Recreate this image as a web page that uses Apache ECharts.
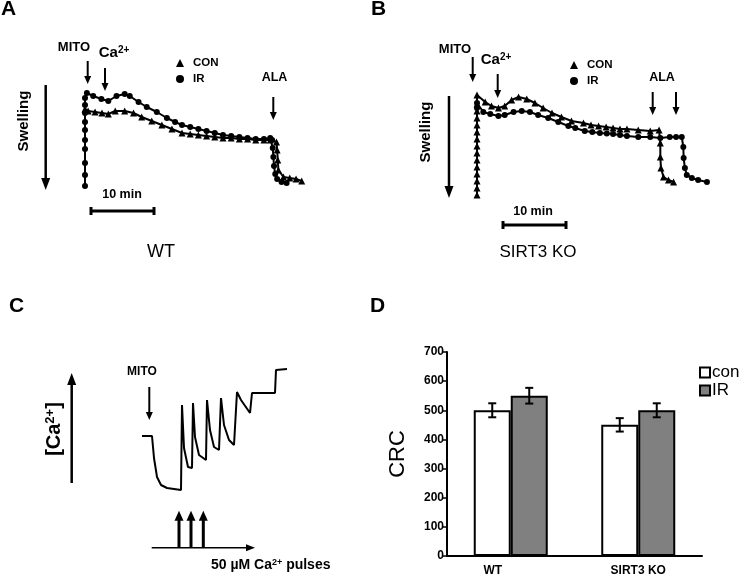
<!DOCTYPE html>
<html>
<head>
<meta charset="utf-8">
<title>Mitochondrial swelling and CRC</title>
<script src="https://cdn.jsdelivr.net/npm/echarts@6/dist/echarts.min.js"></script>
<style>
  html, body { margin: 0; padding: 0; background: #fff; }
  #chart { width: 745px; height: 578px; }
</style>
</head>
<body>
<div id="chart"></div>
<script>
// ---- data ----
// A / B : swelling traces, [time (min), absorbance (a.u.)]
var swellA_CON = [[0,0.91],[0.5,0.89],[1.6,0.88],[2.7,0.87],[3.7,0.86],[4.8,0.89],[6.3,0.89],[7.7,0.87],[9.0,0.83],[10.6,0.79],[12.2,0.75],[13.8,0.71],[15.4,0.67],[16.7,0.66],[18.0,0.65],[19.3,0.64],[20.6,0.63],[21.9,0.62],[23.2,0.62],[24.5,0.61],[25.8,0.61],[27.1,0.60],[28.4,0.60],[29.4,0.60],[30.4,0.58],[30.5,0.50],[30.6,0.40],[30.7,0.30],[31.5,0.23],[32.5,0.22],[33.5,0.21],[34.4,0.19]];
var swellA_IR = [[0,0.14],[0,0.25],[0,0.37],[0,0.51],[0,0.60],[0,0.70],[0,0.78],[0,0.87],[0,0.95],[0,1.02],[0.3,1.07],[1.3,1.04],[2.6,1.01],[3.7,0.99],[5.0,1.04],[6.3,1.06],[7.1,1.04],[8.5,0.98],[9.8,0.93],[11.4,0.88],[13.0,0.82],[14.3,0.78],[15.4,0.75],[16.7,0.73],[18.0,0.71],[19.3,0.69],[20.6,0.67],[21.9,0.65],[23.2,0.64],[24.5,0.63],[25.8,0.62],[27.1,0.61],[28.4,0.61],[29.4,0.62],[29.7,0.60],[29.8,0.52],[29.9,0.43],[30.0,0.34],[30.2,0.26],[30.5,0.21],[31.2,0.18],[32.0,0.17]];
var swellB_CON = [[0,0.05],[0,0.12],[0,0.19],[0,0.26],[0,0.33],[0,0.40],[0,0.47],[0,0.54],[0,0.61],[0,0.68],[0,0.75],[0,0.82],[0,0.89],[0,0.96],[0,1.05],[1.3,0.98],[2.3,0.94],[3.4,0.92],[4.4,0.94],[5.5,1.00],[6.6,1.03],[7.9,1.01],[9.2,0.97],[10.5,0.92],[11.9,0.87],[13.4,0.83],[15.0,0.79],[16.9,0.77],[18.1,0.75],[19.3,0.74],[20.5,0.73],[21.6,0.72],[22.7,0.71],[23.8,0.71],[25.6,0.70],[27.5,0.69],[28.9,0.70],[29.1,0.57],[29.1,0.43],[29.2,0.32],[29.6,0.23],[30.4,0.20],[31.2,0.18]];
var swellB_IR = [[0,0.92],[0,0.97],[1.0,0.88],[2.1,0.86],[3.4,0.84],[4.4,0.85],[5.8,0.88],[7.1,0.89],[8.4,0.88],[9.7,0.85],[11.3,0.82],[12.9,0.78],[14.5,0.74],[15.6,0.72],[17.1,0.69],[18.3,0.68],[19.5,0.67],[20.6,0.665],[21.6,0.66],[22.7,0.65],[23.8,0.64],[25.6,0.63],[27.5,0.63],[29.1,0.62],[30.6,0.63],[31.6,0.63],[32.5,0.63],[32.75,0.53],[32.8,0.42],[33.0,0.32],[33.3,0.25],[34.1,0.22],[35.1,0.20],[36.5,0.18]];

// C : extra-mitochondrial Ca2+ trace (arbitrary units)
var caTime  = [12,22,24,27,31,37,51,52,54,58,62,63,65,69,76,77,80,84,89,91,94,99,104,107,111,120,122,145,146,157];
var caLevel = [64,64,42,23,15,12,10,95,52,33,32,97,63,45,40,100,70,53,50,102,75,60,55,108,100,87,107,107,130,131];

// D : calcium retention capacity
var crcGroups = ['WT', 'SIRT3 KO'];
var crcCon    = [500, 450];
var crcIR     = [550, 500];
var crcConErr = [24, 23];
var crcIRErr  = [27, 24];
var crcTicks  = [0, 100, 200, 300, 400, 500, 600, 700];

var FONT = '"Liberation Sans", Arial, Helvetica, sans-serif';

// ---- helpers for the drawn annotations ----
function arrow(x1, y1, x2, y2, lw, hw, hl) {
  var dx = x2 - x1, dy = y2 - y1, len = Math.sqrt(dx * dx + dy * dy);
  var ux = dx / len, uy = dy / len, px = -uy, py = ux;
  var bx = x2 - ux * hl, by = y2 - uy * hl;
  return [
    { type: 'line', shape: { x1: x1, y1: y1, x2: bx + ux, y2: by + uy }, style: { stroke: '#000', lineWidth: lw } },
    { type: 'polygon', shape: { points: [[bx + px * hw / 2, by + py * hw / 2], [bx - px * hw / 2, by - py * hw / 2], [x2, y2]] }, style: { fill: '#000' } }
  ];
}
function text(x, y, str, size, weight, extra) {
  var el = {
    type: 'text', x: x, y: y,
    style: {
      text: str, fontSize: size, fontWeight: weight || 'bold', fontFamily: FONT, fill: '#000',
      align: 'center', verticalAlign: 'middle',
      rich: { s: { fontSize: Math.round(size * 0.65), fontWeight: weight || 'bold', fontFamily: FONT, verticalAlign: 'top' } }
    }
  };
  if (extra) { for (var k in extra) el[k] = extra[k]; }
  return el;
}
function scaleBar(x1, x2, y) {
  return [
    { type: 'line', shape: { x1: x1, y1: y, x2: x2, y2: y }, style: { stroke: '#000', lineWidth: 3 } },
    { type: 'line', shape: { x1: x1, y1: y - 4, x2: x1, y2: y + 4 }, style: { stroke: '#000', lineWidth: 3 } },
    { type: 'line', shape: { x1: x2, y1: y - 4, x2: x2, y2: y + 4 }, style: { stroke: '#000', lineWidth: 3 } }
  ];
}

var g = [];
// panel letters
[['A', 1, 9], ['B', 371, 9], ['C', 9, 306], ['D', 370, 306]].forEach(function (p) {
  g.push({ type: 'text', x: p[1], y: p[2], style: { text: p[0], fontSize: 21, fontWeight: 'bold', fontFamily: FONT, fill: '#000', align: 'left', verticalAlign: 'middle' } });
});
// panel A annotations
g.push(text(74, 47, 'MITO', 13));
g = g.concat(arrow(87.7, 61, 87.7, 84, 2, 7, 8));
g.push(text(114, 53, 'Ca{s|2+}', 15));
g = g.concat(arrow(105, 68, 105, 91, 2, 7, 8));
g.push(text(274.5, 78, 'ALA', 12.5));
g = g.concat(arrow(273.3, 97, 273.3, 120, 2, 7, 8));
g = g.concat(arrow(45.7, 85, 45.7, 190, 2.5, 9, 12));
g.push(text(24, 121, 'Swelling', 15, 'bold', { rotation: Math.PI / 2 }));
g = g.concat(scaleBar(91, 154, 211));
g.push(text(122, 195, '10 min', 12.5));
g.push(text(161, 252, 'WT', 18, 'normal'));
// panel B annotations
g.push(text(455, 49, 'MITO', 13));
g = g.concat(arrow(472.7, 57, 472.7, 82, 2, 7, 8));
g.push(text(496, 60, 'Ca{s|2+}', 15));
g = g.concat(arrow(497.7, 74, 497.7, 98, 2, 7, 8));
g.push(text(662, 78, 'ALA', 12.5));
g = g.concat(arrow(652.7, 92, 652.7, 115, 2, 7, 8));
g = g.concat(arrow(676, 92, 676, 115, 2, 7, 8));
g = g.concat(arrow(449, 96, 449, 198, 2.5, 9, 12));
g.push(text(426, 132, 'Swelling', 15, 'bold', { rotation: Math.PI / 2 }));
g = g.concat(scaleBar(503, 566, 225));
g.push(text(533, 212, '10 min', 12.5));
g.push(text(538, 252, 'SIRT3 KO', 17, 'normal'));
// panel C annotations
g = g.concat(arrow(71.7, 483, 71.7, 373, 2.5, 9, 12));
g.push(text(54, 429, '[Ca{s|2+}]', 20, 'bold', { rotation: Math.PI / 2 }));
g.push(text(142, 372, 'MITO', 12));
g = g.concat(arrow(149.3, 387, 149.3, 420, 2, 7, 8));
g = g.concat(arrow(151.7, 547.7, 255, 547.7, 1.5, 7, 9));
[179, 191, 203.3].forEach(function (x) { g = g.concat(arrow(x, 547.7, x, 510.7, 3, 9, 10)); });
var pulses = text(211, 565, '50 µM Ca{s|2+} pulses', 14);
pulses.style.align = 'left';
g.push(pulses);

function errSeries(vals, errs, side) {
  return {
    type: 'custom', xAxisIndex: 3, yAxisIndex: 3, z: 5,
    data: vals.map(function (v, i) { return [i, v, errs[i]]; }),
    renderItem: function (params, api) {
      var i = api.value(0), v = api.value(1), e = api.value(2);
      var hi = api.coord([i, v + e]), lo = api.coord([i, v - e]);
      var x = hi[0] + side * 18.5, c = 4;
      var st = { stroke: '#000', lineWidth: 2 };
      return {
        type: 'group', children: [
          { type: 'line', shape: { x1: x, y1: hi[1], x2: x, y2: lo[1] }, style: st },
          { type: 'line', shape: { x1: x - c, y1: hi[1], x2: x + c, y2: hi[1] }, style: st },
          { type: 'line', shape: { x1: x - c, y1: lo[1], x2: x + c, y2: lo[1] }, style: st }
        ]
      };
    }
  };
}

var swellLegend = function (left, top) {
  return {
    left: left, top: top, padding: 0, orient: 'vertical', itemWidth: 8, itemHeight: 8, itemGap: 4,
    data: [{ name: 'CON', icon: 'triangle' }, { name: 'IR (swelling)', icon: 'circle' }],
    formatter: function (n) { return n.replace(' (swelling)', ''); },
    textStyle: { color: '#000', fontSize: 11.5, fontWeight: 'bold', fontFamily: FONT, lineHeight: 12, padding: [0, 0, 0, 4] }
  };
};

var option = {
  backgroundColor: '#fff',
  animation: false,
  textStyle: { fontFamily: FONT },
  grid: [
    { left: 85, top: 80, width: 226.8, height: 120 },
    { left: 477, top: 80, width: 233.1, height: 120 },
    { left: 130, top: 360, width: 170, height: 140 },
    { left: 447, top: 352, width: 255, height: 204 }
  ],
  xAxis: [
    { type: 'value', gridIndex: 0, min: 0, max: 36, show: false },
    { type: 'value', gridIndex: 1, min: 0, max: 37, show: false },
    { type: 'value', gridIndex: 2, min: 0, max: 170, show: false },
    {
      type: 'category', gridIndex: 3, data: crcGroups,
      axisLine: { lineStyle: { color: '#000', width: 2 } },
      axisTick: { show: false },
      axisLabel: {
        color: '#000', fontWeight: 'bold', fontSize: 12, fontFamily: FONT, margin: 9,
        formatter: function (v) { return v === 'WT' ? '{w|' + v + '}' : v; },
        rich: { w: { color: '#000', fontWeight: 'bold', fontSize: 12, fontFamily: FONT, padding: [0, 36, 0, 0] } }
      }
    }
  ],
  yAxis: [
    { type: 'value', gridIndex: 0, min: 0, max: 1.2, show: false },
    { type: 'value', gridIndex: 1, min: 0, max: 1.2, show: false },
    { type: 'value', gridIndex: 2, min: 0, max: 140, show: false },
    {
      type: 'value', gridIndex: 3, min: crcTicks[0], max: crcTicks[crcTicks.length - 1], interval: 100,
      name: 'CRC', nameLocation: 'middle', nameGap: 38,
      nameTextStyle: { color: '#000', fontSize: 22, fontFamily: FONT },
      axisLine: { show: true, lineStyle: { color: '#000', width: 2 } },
      axisTick: { show: true, length: 4, lineStyle: { color: '#000', width: 1.5 } },
      axisLabel: { color: '#000', fontWeight: 'bold', fontSize: 12, fontFamily: FONT, margin: 3 },
      splitLine: { show: false }
    }
  ],
  legend: [
    swellLegend(176, 57),
    swellLegend(570, 59),
    {
      left: 699, top: 364, padding: 0, orient: 'vertical', itemWidth: 10, itemHeight: 10, itemGap: 1,
      data: [{ name: 'con', icon: 'rect' }, { name: 'IR', icon: 'rect' }],
      textStyle: { color: '#000', fontSize: 17, fontFamily: FONT, lineHeight: 16, padding: [0, 0, 0, -3] }
    }
  ],
  series: [
    {
      name: 'CON', type: 'line', xAxisIndex: 0, yAxisIndex: 0, data: swellA_CON,
      symbol: 'triangle', symbolSize: 7, showAllSymbol: true, clip: false,
      lineStyle: { color: '#000', width: 2 }, itemStyle: { color: '#000' }
    },
    {
      name: 'IR (swelling)', type: 'line', xAxisIndex: 0, yAxisIndex: 0, data: swellA_IR,
      symbol: 'circle', symbolSize: 6, showAllSymbol: true, clip: false,
      lineStyle: { color: '#000', width: 2 }, itemStyle: { color: '#000' }
    },
    {
      name: 'CON', type: 'line', xAxisIndex: 1, yAxisIndex: 1, data: swellB_CON,
      symbol: 'triangle', symbolSize: 7, showAllSymbol: true, clip: false,
      lineStyle: { color: '#000', width: 2 }, itemStyle: { color: '#000' }
    },
    {
      name: 'IR (swelling)', type: 'line', xAxisIndex: 1, yAxisIndex: 1, data: swellB_IR,
      symbol: 'circle', symbolSize: 6, showAllSymbol: true, clip: false,
      lineStyle: { color: '#000', width: 2 }, itemStyle: { color: '#000' }
    },
    {
      name: 'Ca trace', type: 'line', xAxisIndex: 2, yAxisIndex: 2,
      data: caTime.map(function (t, i) { return [t, caLevel[i]]; }),
      symbol: 'none', clip: false, lineStyle: { color: '#000', width: 2 }
    },
    {
      name: 'con', type: 'bar', xAxisIndex: 3, yAxisIndex: 3, data: crcCon,
      barWidth: 37, barGap: '0%',
      itemStyle: { color: '#fff', borderColor: '#000', borderWidth: 2 }
    },
    {
      name: 'IR', type: 'bar', xAxisIndex: 3, yAxisIndex: 3, data: crcIR,
      barWidth: 37, barGap: '0%',
      itemStyle: { color: '#808080', borderColor: '#000', borderWidth: 2 }
    },
    errSeries(crcCon, crcConErr, -1),
    errSeries(crcIR, crcIRErr, 1)
  ],
  graphic: { elements: g }
};

var chart = echarts.init(document.getElementById('chart'), null, { renderer: 'canvas' });
chart.setOption(option);
window.addEventListener('resize', chart.resize);
</script>
</body>
</html>
